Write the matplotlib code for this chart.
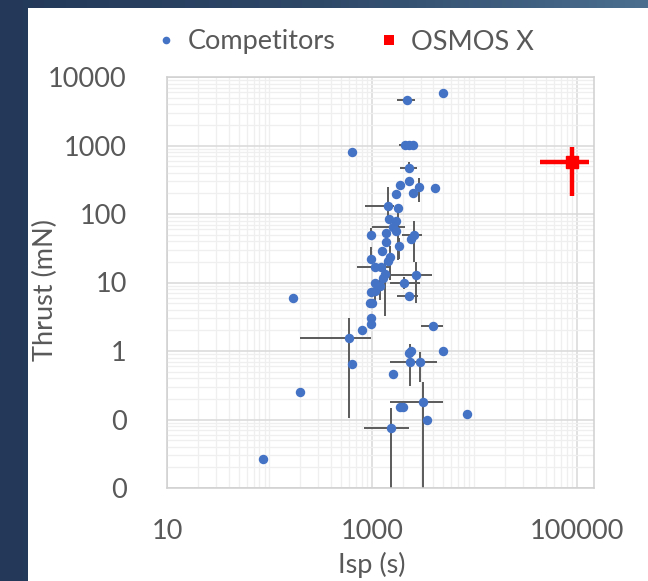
import numpy as np
import matplotlib
matplotlib.use("Agg")
import matplotlib.pyplot as plt
from matplotlib.lines import Line2D
from matplotlib.patches import Rectangle
from matplotlib.ticker import FixedLocator, NullFormatter
from matplotlib.colors import LinearSegmentedColormap

# ---------------- data ----------------
nan = np.nan
isp = [4970, 2210, 640, 2100, 2300, 2500, 2310, 2290, 1890, 2860,
       4120, 1740, 2550, 1430, 1810, 1476, 1742, 1614, 1390, 993,
       1742, 2572, 2440, 1390, 1845, 1270, 1500, 1432, 993, 1087,
       1244, 1361, 2731, 1289, 2066, 1069, 1197, 993, 1087, 2297,
       955, 1010, 993, 993, 804, 597, 3963, 4970, 2297, 2440,
       2350, 2985, 1614, 1905, 2000, 3163, 3470, 8500, 1557, 171,
       638, 201, 87]
thrust = [5900, 4600, 800, 1010, 1010, 1010, 474, 306, 265, 251,
          237, 196, 200, 131, 121, 84, 79, 64, 52, 49,
          57, 49, 42.6, 39.4, 34.4, 29, 23.8, 20.8, 21.8, 17,
          17, 13.3, 12.9, 11.5, 9.9, 9.9, 8.9, 7.35, 7.6, 6.4,
          5.07, 5.07, 3.06, 2.48, 2.03, 1.56, 2.32, 1.0, 0.95, 1.0,
          0.684, 0.68, 0.457, 0.154, 0.154, 0.182, 0.1, 0.12, 0.076, 6.0,
          0.64, 0.252, 0.0265]
isp_lo = [nan, 1750, nan, 1850, nan, nan, 1900, nan, nan, nan,
          nan, nan, nan, 855, nan, nan, nan, 1000, nan, nan,
          nan, 1986, nan, nan, nan, nan, nan, nan, nan, nan,
          710, nan, 1557, nan, 1500, nan, nan, nan, nan, 1783,
          nan, nan, nan, nan, nan, 201, 3000, nan, nan, nan,
          1500, nan, nan, nan, nan, 1500, nan, nan, 836, nan,
          nan, nan, nan]
isp_hi = [nan, 2630, nan, 2550, nan, nan, 2750, nan, nan, nan,
          nan, nan, nan, 1650, nan, nan, nan, 2100, nan, nan,
          nan, 3124, nan, nan, nan, nan, nan, nan, nan, nan,
          1500, nan, 3910, nan, 2940, nan, nan, nan, nan, 2810,
          nan, nan, nan, nan, nan, 993, 4970, nan, nan, nan,
          4375, nan, nan, nan, nan, 4970, nan, nan, 2297, nan,
          nan, nan, nan]
thrust_lo = [nan, nan, nan, nan, nan, nan, 400, nan, nan, 151,
             nan, nan, nan, 80, 21, nan, nan, nan, nan, 42,
             nan, 20, nan, nan, 22, nan, 11, nan, nan, nan,
             nan, 3.2, 5.0, nan, 8, nan, 5.5, nan, 5, nan,
             nan, nan, nan, nan, nan, 0.104, nan, nan, nan, nan,
             0.308, 0.356, nan, nan, nan, 0.001, nan, nan, 0.001, nan,
             nan, nan, nan]
thrust_hi = [nan, nan, nan, nan, nan, nan, 580, nan, nan, 336,
             nan, nan, nan, 248, nan, nan, nan, nan, nan, 62,
             nan, 80, nan, nan, 45, nan, 34, nan, 33, nan,
             nan, 20, 20, nan, 12, nan, 11, nan, 8, nan,
             nan, nan, nan, nan, nan, 3.0, nan, nan, nan, nan,
             1.25, 0.977, nan, nan, nan, 0.356, nan, nan, 0.149, nan,
             nan, nan, nan]

osmos_isp = [90000]
osmos_thrust = [580]
osmos_isp_lo = [44000]
osmos_isp_hi = [132000]
osmos_thrust_lo = [183]
osmos_thrust_hi = [960]

x_ticks = [10, 1000, 100000]
x_tick_labels = ["10", "1000", "100000"]
y_ticks = [0.01, 0.1, 1, 10, 100, 1000, 10000]
y_tick_labels = ["0", "0", "1", "10", "100", "1000", "10000"]
x_label = "Isp (s)"
y_label = "Thrust (mN)"
legend_labels = ["Competitors", "OSMOS X"]

# ---------------- figure ----------------
W, H = 648, 581
fig = plt.figure(figsize=(W / 100, H / 100), dpi=100)
fig.patch.set_facecolor("#263c58")

bg = fig.add_axes([0, 0, 1, 1], zorder=-10)
grad = np.linspace(0, 1, 256)[None, :]
cm = LinearSegmentedColormap.from_list("bgc", ["#24395a", "#2e4868", "#4b6e8f"])
bg.imshow(grad, aspect="auto", cmap=cm, extent=[0, 1, 0, 1])
bg.set_xlim(0, 1); bg.set_ylim(0, 1)
bg.axis("off")
bg.add_patch(Rectangle((28 / W, 0), 1 - 28 / W, 1 - 8 / H, facecolor="white",
                       edgecolor="none"))

FONT = "Lato"
TXT = "#595959"

ax = fig.add_axes([167 / W, 1 - 488 / H, (594 - 167) / W, (488 - 77) / H])
ax.set_xscale("log")
ax.set_yscale("log")
ax.set_xlim(10, 1.48e5)
ax.set_ylim(0.01, 10000)
ax.set_facecolor("white")

ax.xaxis.set_major_locator(FixedLocator(x_ticks))
ax.yaxis.set_major_locator(FixedLocator(y_ticks))
xminor = [m * 10.0 ** e for e in range(1, 6) for m in range(1, 10)
          if m * 10.0 ** e not in x_ticks and m * 10.0 ** e > 10]
yminor = [m * 10.0 ** e for e in range(-2, 4) for m in range(2, 10)]
ax.xaxis.set_minor_locator(FixedLocator(xminor))
ax.yaxis.set_minor_locator(FixedLocator(yminor))
ax.xaxis.set_minor_formatter(NullFormatter())
ax.yaxis.set_minor_formatter(NullFormatter())
ax.set_xticklabels(x_tick_labels)
ax.set_yticklabels(y_tick_labels)

ax.grid(True, which="major", color="#d9d9d9", lw=1.1)
ax.grid(True, which="minor", color="#efefef", lw=0.9)
ax.set_axisbelow(True)
ax.tick_params(which="both", length=0)
ax.tick_params(axis="x", pad=22, labelsize=19.5, labelcolor=TXT)
ax.tick_params(axis="y", pad=29, labelsize=19.5, labelcolor=TXT)
for lab in ax.get_xticklabels() + ax.get_yticklabels():
    lab.set_fontfamily(FONT)
for s in ax.spines.values():
    s.set_color("#d0d0d0")
    s.set_linewidth(1.1)

ax.set_xlabel(x_label, fontsize=19.5, color=TXT, fontfamily=FONT)
ax.set_ylabel(y_label, fontsize=19.5, color=TXT, fontfamily=FONT)
ax.xaxis.set_label_coords((372 - 167) / 427, -(565 - 488) / 411)
ax.yaxis.set_label_coords(-(167 - 45) / 427, (488 - 290) / 411)
ax.xaxis.label.set_va("center")
ax.yaxis.label.set_va("center")

# competitors error bars
x = np.array(isp, float); y = np.array(thrust, float)
xl = np.nan_to_num(x - np.array(isp_lo, float))
xh = np.nan_to_num(np.array(isp_hi, float) - x)
yl = np.nan_to_num(y - np.array(thrust_lo, float))
yh = np.nan_to_num(np.array(thrust_hi, float) - y)
ax.errorbar(x, y, xerr=[xl, xh], yerr=[yl, yh], fmt="none",
            ecolor="#5a5a5a", elinewidth=1.4, capsize=0, zorder=2)
ax.plot(x, y, "o", color="#4472c4", markersize=6.8, markeredgewidth=0,
        zorder=3)

# OSMOS X
ox = np.array(osmos_isp, float); oy = np.array(osmos_thrust, float)
ax.errorbar(ox, oy,
            xerr=[ox - np.array(osmos_isp_lo), np.array(osmos_isp_hi) - ox],
            yerr=[oy - np.array(osmos_thrust_lo), np.array(osmos_thrust_hi) - oy],
            fmt="s", color="#ff0000", ecolor="#ff0000", markersize=8.5,
            elinewidth=3.2, capsize=0, zorder=4, clip_on=False)

handles = [Line2D([], [], ls="none", marker="o", color="#4472c4",
                  markersize=5.5, markeredgewidth=0),
           Line2D([], [], ls="none", marker="s", color="#ff0000",
                  markersize=7.5, markeredgewidth=0)]
fig.legend(handles, legend_labels, loc="center",
           bbox_to_anchor=(343 / W, 1 - 42 / H), ncol=2, frameon=False,
           prop={"family": FONT, "size": 19.5}, labelcolor=TXT,
           handletextpad=0.3, columnspacing=1.5, handlelength=1.0)

fig.savefig("out.png", dpi=100, facecolor=fig.get_facecolor())
